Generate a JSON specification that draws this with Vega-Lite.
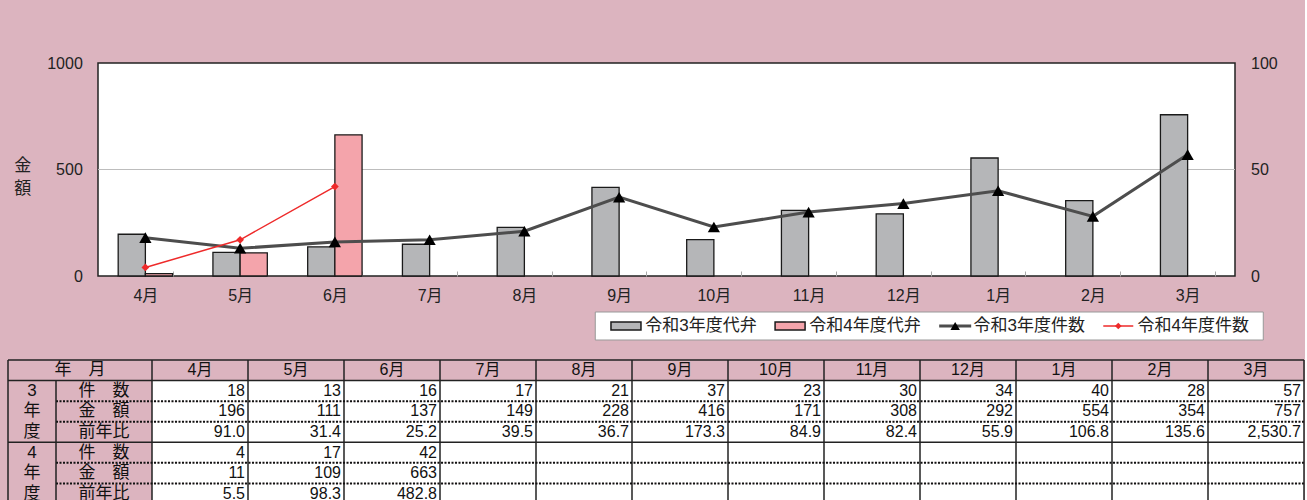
{
  "$schema": "https://vega.github.io/schema/vega-lite/v6.json",
  "background": "#dcb4bf",
  "padding": {"left": 7, "top": 54, "right": 0, "bottom": 0},
  "config": {
    "font": "Liberation Sans, Noto Sans CJK JP",
    "text": {"font": "Liberation Sans, Noto Sans CJK JP", "fontSize": 16, "color": "#111"}
  },
  "datasets": {
    "months": [
      {"month": "4月", "令和3年度件数": 18, "令和3年度代弁": 196, "令和3年度前年比": 91.0, "令和4年度件数": 4, "令和4年度代弁": 11, "令和4年度前年比": 5.5},
      {"month": "5月", "令和3年度件数": 13, "令和3年度代弁": 111, "令和3年度前年比": 31.4, "令和4年度件数": 17, "令和4年度代弁": 109, "令和4年度前年比": 98.3},
      {"month": "6月", "令和3年度件数": 16, "令和3年度代弁": 137, "令和3年度前年比": 25.2, "令和4年度件数": 42, "令和4年度代弁": 663, "令和4年度前年比": 482.8},
      {"month": "7月", "令和3年度件数": 17, "令和3年度代弁": 149, "令和3年度前年比": 39.5, "令和4年度件数": null, "令和4年度代弁": null, "令和4年度前年比": null},
      {"month": "8月", "令和3年度件数": 21, "令和3年度代弁": 228, "令和3年度前年比": 36.7, "令和4年度件数": null, "令和4年度代弁": null, "令和4年度前年比": null},
      {"month": "9月", "令和3年度件数": 37, "令和3年度代弁": 416, "令和3年度前年比": 173.3, "令和4年度件数": null, "令和4年度代弁": null, "令和4年度前年比": null},
      {"month": "10月", "令和3年度件数": 23, "令和3年度代弁": 171, "令和3年度前年比": 84.9, "令和4年度件数": null, "令和4年度代弁": null, "令和4年度前年比": null},
      {"month": "11月", "令和3年度件数": 30, "令和3年度代弁": 308, "令和3年度前年比": 82.4, "令和4年度件数": null, "令和4年度代弁": null, "令和4年度前年比": null},
      {"month": "12月", "令和3年度件数": 34, "令和3年度代弁": 292, "令和3年度前年比": 55.9, "令和4年度件数": null, "令和4年度代弁": null, "令和4年度前年比": null},
      {"month": "1月", "令和3年度件数": 40, "令和3年度代弁": 554, "令和3年度前年比": 106.8, "令和4年度件数": null, "令和4年度代弁": null, "令和4年度前年比": null},
      {"month": "2月", "令和3年度件数": 28, "令和3年度代弁": 354, "令和3年度前年比": 135.6, "令和4年度件数": null, "令和4年度代弁": null, "令和4年度前年比": null},
      {"month": "3月", "令和3年度件数": 57, "令和3年度代弁": 757, "令和3年度前年比": 2530.7, "令和4年度件数": null, "令和4年度代弁": null, "令和4年度前年比": null}
    ],
    "series": [
      {"series": "令和3年度代弁"},
      {"series": "令和4年度代弁"},
      {"series": "令和3年度件数"},
      {"series": "令和4年度件数"}
    ]
  },
  "spacing": 18,
  "vconcat": [
    {
      "spacing": 7,
      "vconcat": [
        {
          "width": 1137,
          "height": 213,
          "view": {"fill": "white", "stroke": "#222", "strokeWidth": 1.5},
          "data": {"name": "months"},
          "resolve": {"scale": {"y": "independent"}},
          "layer": [
            {
              "layer": [
                {
                  "data": {"values": [{}]},
                  "mark": {"type": "rule", "color": "#bdbdbd", "strokeWidth": 1},
                  "encoding": {
                    "y": {"datum": 500, "type": "quantitative", "scale": {"domain": [0, 1000], "nice": false}}
                  }
                },
                {
                  "transform": [{"fold": ["令和3年度代弁", "令和4年度代弁"], "as": ["series", "amount"]}],
                  "mark": {"type": "bar", "stroke": "#1a1a1a", "strokeWidth": 1.3},
                  "encoding": {
                    "x": {
                      "field": "month", "type": "nominal",
                      "scale": {"domain": ["4月", "5月", "6月", "7月", "8月", "9月", "10月", "11月", "12月", "1月", "2月", "3月"], "paddingInner": 0.426, "paddingOuter": 0.213},
                      "axis": {"orient": "bottom", "title": null, "domain": false, "ticks": true, "tickBand": "extent", "tickSize": -5, "tickColor": "#aaaaaa", "tickWidth": 1, "labelAngle": 0, "labelPadding": 16, "labelFontSize": 16, "labelColor": "#222", "labelFont": "Liberation Sans, Noto Sans CJK JP"}
                    },
                    "xOffset": {"field": "series", "type": "nominal", "scale": {"domain": ["令和3年度代弁", "令和4年度代弁"], "paddingInner": 0, "paddingOuter": 0}},
                    "y": {
                      "field": "amount", "type": "quantitative",
                      "scale": {"domain": [0, 1000], "nice": false},
                      "axis": {"orient": "left", "values": [0, 500, 1000], "format": "d", "domain": false, "ticks": false, "grid": false, "labelPadding": 15.7, "labelFontSize": 16, "labelColor": "#222", "labelFont": "Liberation Sans",
                        "title": ["金", "額"], "titleAngle": 0, "titleFontSize": 17, "titleFont": "Noto Sans CJK JP", "titleFontWeight": "normal", "titleLineHeight": 23, "titleAlign": "center", "titleBaseline": "middle", "titleX": -75.7, "titleY": 102, "titleColor": "#222"}
                    },
                    "color": {
                      "field": "series", "type": "nominal",
                      "scale": {"domain": ["令和3年度代弁", "令和4年度代弁", "令和3年度件数", "令和4年度件数"], "range": ["#b5b6b8", "#f4a4ab", "#4d4d4d", "#ee2a2a"]},
                      "legend": null
                    }
                  }
                }
              ]
            },
            {
              "layer": [
                {
                  "mark": {"type": "line", "strokeWidth": 3},
                  "encoding": {
                    "x": {"field": "month", "type": "nominal"},
                    "y": {"field": "令和3年度件数", "type": "quantitative", "scale": {"domain": [0, 100], "nice": false},
                      "axis": {"orient": "right", "title": null, "values": [0, 50, 100], "domain": false, "ticks": false, "grid": false, "labelPadding": 15.5, "labelFontSize": 16, "labelColor": "#222", "labelFont": "Liberation Sans"}},
                    "color": {"datum": "令和3年度件数", "legend": null}
                  }
                },
                {
                  "mark": {"type": "point", "shape": "triangle-up", "filled": true, "size": 150, "color": "#000000", "opacity": 1},
                  "encoding": {
                    "x": {"field": "month", "type": "nominal"},
                    "y": {"field": "令和3年度件数", "type": "quantitative", "title": null}
                  }
                },
                {
                  "mark": {"type": "line", "strokeWidth": 1.5},
                  "encoding": {
                    "x": {"field": "month", "type": "nominal"},
                    "y": {"field": "令和4年度件数", "type": "quantitative", "title": null},
                    "color": {"datum": "令和4年度件数", "legend": null}
                  }
                },
                {
                  "mark": {"type": "point", "shape": "diamond", "filled": true, "size": 60, "color": "#ee2a2a", "opacity": 1},
                  "encoding": {
                    "x": {"field": "month", "type": "nominal"},
                    "y": {"field": "令和4年度件数", "type": "quantitative", "title": null}
                  }
                }
              ]
            }
          ]
        },
        {
          "width": 656.4,
          "height": 28,
          "view": {"stroke": null, "fill": null},
          "data": {"name": "series"},
          "layer": [
            {
              "data": {"values": [{}]},
              "mark": {"type": "rect", "fill": "white", "stroke": "#999999", "strokeWidth": 1},
              "encoding": {
                "x": {"datum": "令和3年度代弁", "type": "nominal", "bandPosition": 3.0303, "scale": {"domain": ["令和3年度代弁", "令和4年度代弁", "令和3年度件数", "令和4年度件数"], "paddingInner": 0, "paddingOuter": 0}, "axis": null},
                "x2": {"datum": "令和4年度件数", "bandPosition": 4.101}
              }
            },
            {
              "transform": [{"filter": "indexof(['令和3年度代弁','令和4年度代弁'], datum.series) >= 0"}],
              "mark": {"type": "point", "shape": "M-1,-0.27H1V0.27H-1Z", "size": 900, "filled": true, "stroke": "#1a1a1a", "strokeWidth": 1.5, "opacity": 1},
              "encoding": {
                "x": {"field": "series", "type": "nominal", "bandPosition": 3.2174, "axis": null},
                "color": {"field": "series", "type": "nominal", "legend": null}
              }
            },
            {
              "transform": [{"filter": "datum.series === '令和3年度件数'"}],
              "mark": {"type": "point", "shape": "M-1,0H1", "size": 1024, "filled": false, "stroke": "#4d4d4d", "strokeWidth": 3, "opacity": 1},
              "encoding": {
                "x": {"field": "series", "type": "nominal", "bandPosition": 3.2235, "axis": null}
              }
            },
            {
              "transform": [{"filter": "datum.series === '令和3年度件数'"}],
              "mark": {"type": "point", "shape": "triangle-up", "size": 90, "filled": true, "color": "#000000", "opacity": 1},
              "encoding": {
                "x": {"field": "series", "type": "nominal", "bandPosition": 3.2235, "axis": null}
              }
            },
            {
              "transform": [{"filter": "datum.series === '令和4年度件数'"}],
              "mark": {"type": "point", "shape": "M-1,0H1", "size": 900, "filled": false, "stroke": "#ee2a2a", "strokeWidth": 1.5, "opacity": 1},
              "encoding": {
                "x": {"field": "series", "type": "nominal", "bandPosition": 3.2174, "axis": null}
              }
            },
            {
              "transform": [{"filter": "datum.series === '令和4年度件数'"}],
              "mark": {"type": "point", "shape": "diamond", "size": 45, "filled": true, "color": "#ee2a2a", "opacity": 1},
              "encoding": {
                "x": {"field": "series", "type": "nominal", "bandPosition": 3.2174, "axis": null}
              }
            },
            {
              "mark": {"type": "text", "align": "left", "baseline": "middle", "fontSize": 17, "color": "#222"},
              "encoding": {
                "x": {"field": "series", "type": "nominal", "bandPosition": 3.335, "axis": null},
                "text": {"field": "series", "type": "nominal"}
              }
            }
          ]
        }
      ]
    },
    {
      "width": 1206,
      "height": 144,
      "view": {"stroke": null, "fill": null},
      "resolve": {"scale": {"x": "independent"}},
      "layer": [
        {
          "data": {"name": "months"},
          "layer": [
            {
              "transform": [{"fold": ["令和3年度件数", "令和3年度代弁", "令和3年度前年比", "令和4年度件数", "令和4年度代弁", "令和4年度前年比"], "as": ["key", "value"]}],
              "mark": {"type": "rect", "fill": "white"},
              "encoding": {
                "x": {"field": "month", "type": "nominal", "scale": {"domain": ["4月", "5月", "6月", "7月", "8月", "9月", "10月", "11月", "12月", "1月", "2月", "3月"], "paddingInner": 0, "paddingOuter": 0.28125, "align": 1}, "axis": null},
                "y": {"field": "key", "type": "nominal", "scale": {"domain": ["hdr", "令和3年度件数", "令和3年度代弁", "令和3年度前年比", "令和4年度件数", "令和4年度代弁", "令和4年度前年比"], "paddingInner": 0, "paddingOuter": 0}, "axis": null}
              }
            },
            {
              "mark": {"type": "rule", "color": "#222", "strokeWidth": 1.5},
              "encoding": {
                "x": {"field": "month", "type": "nominal", "bandPosition": 0, "axis": null}
              }
            },
            {
              "mark": {"type": "text", "align": "center", "baseline": "middle"},
              "encoding": {
                "x": {"field": "month", "type": "nominal", "axis": null},
                "y": {"datum": "hdr", "type": "nominal", "axis": null},
                "text": {"field": "month", "type": "nominal"}
              }
            },
            {
              "transform": [
                {"fold": ["令和3年度件数", "令和3年度代弁", "令和4年度件数", "令和4年度代弁"], "as": ["key", "value"]},
                {"filter": "isValid(datum.value)"}
              ],
              "mark": {"type": "text", "align": "right", "baseline": "middle", "dx": -3},
              "encoding": {
                "x": {"field": "month", "type": "nominal", "bandPosition": 1, "axis": null},
                "y": {"field": "key", "type": "nominal", "axis": null},
                "text": {"field": "value", "type": "quantitative", "format": "d"}
              }
            },
            {
              "transform": [
                {"fold": ["令和3年度前年比", "令和4年度前年比"], "as": ["key", "value"]},
                {"filter": "isValid(datum.value)"}
              ],
              "mark": {"type": "text", "align": "right", "baseline": "middle", "dx": -3},
              "encoding": {
                "x": {"field": "month", "type": "nominal", "bandPosition": 1, "axis": null},
                "y": {"field": "key", "type": "nominal", "axis": null},
                "text": {"field": "value", "type": "quantitative", "format": ",.1f"}
              }
            }
          ]
        },
        {
          "layer": [
            {
              "data": {"values": [{"key": "hdr"}, {"key": "令和3年度件数"}, {"key": "令和4年度件数"}]},
              "mark": {"type": "rule", "color": "#222", "strokeWidth": 1.5},
              "encoding": {
                "x": {"datum": -1.5, "type": "quantitative", "scale": {"domain": [-0.5625, 12], "nice": false, "zero": false}, "axis": null},
                "x2": {"datum": 12},
                "y": {"field": "key", "type": "nominal", "bandPosition": 0, "axis": null}
              }
            },
            {
              "data": {"values": [{"key": "令和3年度代弁"}, {"key": "令和3年度前年比"}, {"key": "令和4年度代弁"}, {"key": "令和4年度前年比"}]},
              "mark": {"type": "rule", "color": "#111", "strokeWidth": 2, "strokeDash": [2, 1.5]},
              "encoding": {
                "x": {"datum": -1, "type": "quantitative", "axis": null},
                "x2": {"datum": 12},
                "y": {"field": "key", "type": "nominal", "bandPosition": 0, "axis": null}
              }
            },
            {
              "data": {"values": [{}]},
              "mark": {"type": "rule", "color": "#222", "strokeWidth": 1.5},
              "encoding": {"x": {"datum": -1.5, "type": "quantitative", "axis": null}}
            },
            {
              "data": {"values": [{}]},
              "mark": {"type": "rule", "color": "#222", "strokeWidth": 1.5},
              "encoding": {"x": {"datum": 12, "type": "quantitative", "axis": null}}
            },
            {
              "data": {"values": [{}]},
              "mark": {"type": "rule", "color": "#222", "strokeWidth": 1.5},
              "encoding": {
                "x": {"datum": -1, "type": "quantitative", "axis": null},
                "y": {"datum": "令和3年度件数", "type": "nominal", "bandPosition": 0, "axis": null},
                "y2": {"datum": "令和4年度前年比", "bandPosition": 1}
              }
            },
            {
              "data": {"values": [{"key": "hdr", "label": "年　月"}]},
              "mark": {"type": "text", "align": "center", "baseline": "middle", "fontSize": 17},
              "encoding": {
                "x": {"datum": -0.75, "type": "quantitative", "axis": null},
                "y": {"field": "key", "type": "nominal", "axis": null},
                "text": {"field": "label", "type": "nominal"}
              }
            },
            {
              "data": {"values": [
                {"key": "令和3年度件数", "label": "件　数"},
                {"key": "令和3年度代弁", "label": "金　額"},
                {"key": "令和3年度前年比", "label": "前年比"},
                {"key": "令和4年度件数", "label": "件　数"},
                {"key": "令和4年度代弁", "label": "金　額"},
                {"key": "令和4年度前年比", "label": "前年比"}
              ]},
              "mark": {"type": "text", "align": "center", "baseline": "middle", "fontSize": 17},
              "encoding": {
                "x": {"datum": -0.5, "type": "quantitative", "axis": null},
                "y": {"field": "key", "type": "nominal", "axis": null},
                "text": {"field": "label", "type": "nominal"}
              }
            },
            {
              "data": {"values": [
                {"key": "令和3年度件数", "label": "3\n年\n度"},
                {"key": "令和4年度件数", "label": "4\n年\n度"}
              ]},
              "mark": {"type": "text", "align": "center", "baseline": "middle", "fontSize": 17, "lineBreak": "\n", "lineHeight": 20.57},
              "encoding": {
                "x": {"datum": -1.25, "type": "quantitative", "axis": null},
                "y": {"field": "key", "type": "nominal", "axis": null},
                "text": {"field": "label", "type": "nominal"}
              }
            }
          ]
        }
      ]
    }
  ]
}
